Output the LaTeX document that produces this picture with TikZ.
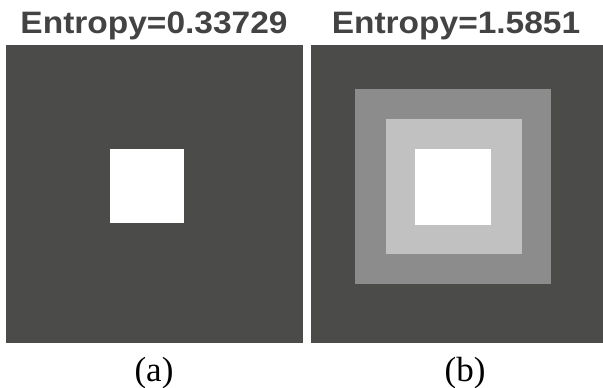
\documentclass[tikz,border=0pt]{standalone}
\usepackage{fontspec}
\setmainfont{Liberation Serif}
\newfontfamily\titlefont[FakeStretch=1.08]{Liberation Sans}
\definecolor{darkbg}{HTML}{4B4B49}
\definecolor{midgray}{HTML}{8C8C8C}
\definecolor{lightgray}{HTML}{C1C1C1}
\definecolor{titlecol}{HTML}{434343}
\begin{document}
\begin{tikzpicture}[x=1pt,y=-1pt,
  titletext/.style={anchor=base,inner sep=0pt,text=titlecol,font=\titlefont\bfseries\fontsize{31}{31}\selectfont},
  captext/.style={anchor=base,inner sep=0pt,text=black,font=\fontsize{35}{35}\selectfont}]
\useasboundingbox[fill=white] (0,0) rectangle (603,388);
% panel (a)
\fill[darkbg] (6,45) rectangle (303,343);
\fill[white] (110,149) rectangle (184,223);
% panel (b)
\fill[darkbg] (311,45) rectangle (603,343);
\fill[midgray] (355,89) rectangle (551,284);
\fill[lightgray] (386,119) rectangle (522,254);
\fill[white] (415,149) rectangle (491,225);
% titles
\node[titletext] (ta) at (154,33) {Entropy=0.33729};
\node[titletext] (tb) at (456,33) {Entropy=1.5851};
% captions
\node[captext] (ca) at (154,381) {(a)};
\node[captext] (cb) at (465,381) {(b)};
\end{tikzpicture}
\end{document}
